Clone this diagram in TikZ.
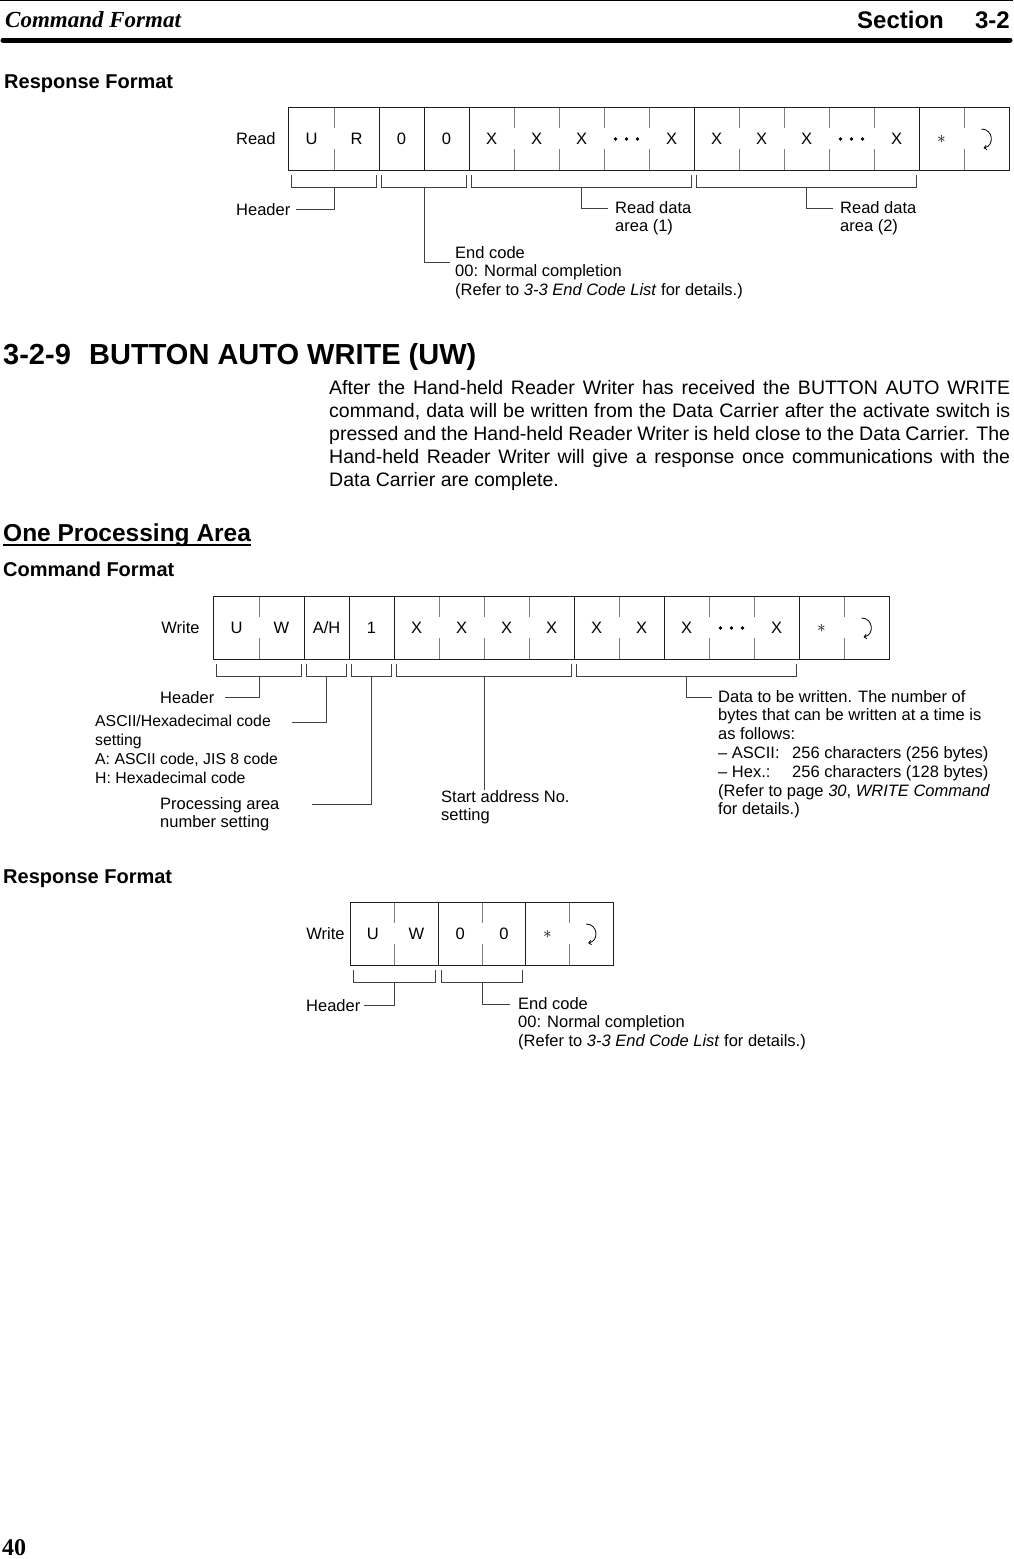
\documentclass[tikz,border=0pt]{standalone}
\usepackage{fontspec}
\setmainfont{Liberation Sans}
\newfontfamily\manualserif{Liberation Serif}
\usetikzlibrary{positioning, calc, arrows.meta}

\definecolor{FrameColor}{gray}{0.12}
\definecolor{TickColor}{gray}{0.5}
\definecolor{LeadColor}{gray}{0.25}

\newcommand{\diagfont}{\fontsize{16.5}{18.8}\selectfont}
% divider with a gap in the middle, and a full divider
\newcommand{\halfsep}[1]{\draw[halftick] (#1.north east) -- ++(0,20) (#1.south east) -- ++(0,-21);}
\newcommand{\fullsep}[1]{\draw[boxline] (#1.north east) -- (#1.south east);}
% bracket under cells #1..#2, mid point saved as #3
\newcommand{\cellbracket}[3]{%
  \draw[brace] ([shift={(3pt,-5pt)}]#1.south west) -- ([shift={(3pt,-17pt)}]#1.south west)
    -- ([shift={(-3pt,-17pt)}]#2.south east) -- ([shift={(-3pt,-5pt)}]#2.south east);
  \coordinate (#3) at ($([yshift=-17pt]#1.south west)!0.5!([yshift=-17pt]#2.south east)$);}
\newcommand{\retmark}[1]{%
  \draw[retarrow] ($(#1)+(-5,-10)$) .. controls ($(#1)+(7,-10)$) and ($(#1)+(8,7)$) .. ($(#1)+(-3,9)$);}
\newcommand{\celldots}[1]{\foreach \dx in {-11,0,11} {\fill ($(#1)+(\dx,0)$) circle (1.9pt);}}

\tikzset{
    cell/.style={minimum width=45pt, minimum height=62pt, inner sep=0pt, font=\diagfont},
    boxline/.style={draw=FrameColor, line width=1pt},
    halftick/.style={draw=TickColor, line width=0.9pt},
    brace/.style={draw=LeadColor, line width=0.8pt},
    lead/.style={draw=LeadColor, line width=0.8pt},
    lbl/.style={font=\diagfont, align=left, inner sep=0pt, anchor=north west, execute at begin node=\strut},
    rowlbl/.style={font=\diagfont, inner sep=0pt},
    headbold/.style={font=\bfseries\fontsize{20}{24}\selectfont, inner sep=0pt, anchor=base west},
    bodytext/.style={font=\fontsize{19.5}{23}\selectfont, align=left, inner sep=0pt, anchor=north west, execute at begin node=\strut},
    retarrow/.style={draw=black, line width=0.8pt, -{Straight Barb[length=2.5pt,width=4.5pt]}}
}

\begin{document}
\begin{tikzpicture}[x=1pt, y=-1pt]
\fill[white] (0,0) rectangle (1013,1559);
\useasboundingbox (0,0) rectangle (1013,1559);

% page head
\draw[line width=1pt] (0,0.5) -- (1013,0.5);
\node[anchor=base west, inner sep=0pt, font=\manualserif\bfseries\itshape\fontsize{23}{26}\selectfont] (pagetitle) at (5,27) {Command Format};
\node[headbold, font=\bfseries\fontsize{24}{28}\selectfont] (sectitle) at (857,28) {Section};
\node[headbold, font=\bfseries\fontsize{24}{28}\selectfont, anchor=base east] (secnum) at (1010,28) {3-2};
\draw[line width=5pt, line cap=round] (3,40) -- (1010,40);

% read response
\node[headbold] (readfmt) at (4,88) {Response Format};
\foreach \lab [count=\i] in {U,R,0,0,X,X,X,{},X,X,X,X,{},X,$\ast$,{}}
    \node[cell] (r\i) at ({311.5+45*(\i-1)},139) {\lab};
\draw[boxline] (r1.north west) rectangle (r16.south east);
\foreach \i in {1,5,6,7,8,10,11,12,13,15} {\halfsep{r\i}}
\foreach \i in {2,3,4,9,14} {\fullsep{r\i}}
\celldots{r8}
\celldots{r13}
\retmark{r16}
\node[rowlbl, left=13pt of r1] (readlbl) {Read};

\cellbracket{r1}{r2}{rb1}
\cellbracket{r3}{r4}{rb2}
\cellbracket{r5}{r9}{rb3}
\cellbracket{r10}{r14}{rb4}

\node[lbl] (readhdr) at (236,202) {Header};
\node[lbl] (readend) at (455,246) {End code\\00: Normal completion\\(Refer to \textit{3-3 End Code List} for details.)};
\node[lbl] (readdat1) at (615,201) {Read data\\area (1)};
\node[lbl] (readdat2) at (840,201) {Read data\\area (2)};
\draw[lead] (rb1) |- ([xshift=5pt,yshift=-7pt]readhdr.north east);
\draw[lead] (rb2) |- ([xshift=-5pt,yshift=-16pt]readend.north west);
\draw[lead] (rb3) |- ([xshift=-7pt,yshift=-7pt]readdat1.north west);
\draw[lead] (rb4) |- ([xshift=-7pt,yshift=-7pt]readdat2.north west);

% section text
\node[headbold, font=\bfseries\fontsize{29}{32}\selectfont] (uwnum) at (3,364) {3-2-9};
\node[headbold, font=\bfseries\fontsize{29}{32}\selectfont] (uwtitle) at (89,364) {BUTTON AUTO WRITE (UW)};
\node[bodytext] (uwtext) at (329,380) {%
\makebox[681pt][s]{After the Hand-held Reader Writer has received the BUTTON AUTO WRITE}\\
\makebox[681pt][s]{command, data will be written from the Data Carrier after the activate switch is}\\
\makebox[681pt][s]{pressed and the Hand-held Reader Writer is held close to the Data Carrier. The}\\
\makebox[681pt][s]{Hand-held Reader Writer will give a response once communications with the}\\
Data Carrier are complete.};

\node[headbold, font=\bfseries\fontsize{24.5}{28}\selectfont] (onearea) at (3,541) {One Processing Area};
\draw[line width=2pt] ([yshift=-4pt]onearea.base west) -- ([yshift=-4pt]onearea.base east);

% write command
\node[headbold] (cmdfmt) at (3,576) {Command Format};
\foreach \lab [count=\i] in {U,W,A/H,1,X,X,X,X,X,X,X,{},X,$\ast$,{}}
    \node[cell] (c\i) at ({236.5+45*(\i-1)},628) {\lab};
\draw[boxline] (c1.north west) rectangle (c15.south east);
\foreach \i in {1,5,6,7,9,11,12,14} {\halfsep{c\i}}
\foreach \i in {2,3,4,8,10,13} {\fullsep{c\i}}
\celldots{c12}
\retmark{c15}
\node[rowlbl, left=14pt of c1] (cmdlbl) {Write};

\cellbracket{c1}{c2}{cb1}
\cellbracket{c3}{c3}{cb2}
\cellbracket{c4}{c4}{cb3}
\cellbracket{c5}{c8}{cb4}
\cellbracket{c9}{c13}{cb5}

\node[lbl] (cmdhdr) at (160,690) {Header};
\node[lbl, font=\fontsize{15.8}{18.8}\selectfont] (cmdasc) at (95,715) {ASCII/Hexadecimal code\\setting\\A: ASCII code, JIS 8 code\\H: Hexadecimal code};
\node[lbl] (cmdproc) at (160,797) {Processing area\\number setting};
\node[lbl] (cmdstart) at (441,790) {Start address No.\\setting};
\node[lbl] (cmddata) at (718,690) {Data to be written. The number of\\bytes that can be written at a time is\\as follows:\\\makebox[74pt][l]{– ASCII:}256 characters (256 bytes)\\\makebox[74pt][l]{– Hex.:}256 characters (128 bytes)\\(Refer to page \textit{30}, \textit{WRITE Command}\\for details.)};
\coordinate (ascend) at (292,722);
\draw[lead] (cb1) |- ([xshift=10pt,yshift=-7pt]cmdhdr.north east);
\draw[lead] (cb2) |- (ascend);
\draw[lead] (cb3) |- ([xshift=32pt,yshift=-7pt]cmdproc.north east);
\draw[lead] (cb4) -- (cb4 |- cmdstart.north);
\draw[lead] (cb5) |- ([xshift=-6pt,yshift=-7pt]cmddata.north west);

% write response
\node[headbold] (respfmt) at (3,883) {Response Format};
\foreach \lab [count=\i] in {U,W,0,0,$\ast$,{}}
    \node[cell, minimum width=43.67pt] (s\i) at ({372.83+43.67*(\i-1)},934) {\lab};
\draw[boxline] (s1.north west) rectangle (s6.south east);
\foreach \i in {1,3,5} {\halfsep{s\i}}
\foreach \i in {2,4} {\fullsep{s\i}}
\retmark{s6}
\node[rowlbl, left=6pt of s1] (resplbl) {Write};

\cellbracket{s1}{s2}{sb1}
\cellbracket{s3}{s4}{sb2}

\node[lbl] (resphdr) at (306,998) {Header};
\node[lbl] (respend) at (518,997) {End code\\00: Normal completion\\(Refer to \textit{3-3 End Code List} for details.)};
\draw[lead] (sb1) |- ([xshift=3pt,yshift=-7pt]resphdr.north east);
\draw[lead] (sb2) |- ([xshift=-8pt,yshift=-7pt]respend.north west);

% page number
\node[anchor=base west, inner sep=0pt, font=\manualserif\bfseries\fontsize{24}{26}\selectfont] (pagenum) at (2,1555) {40};
\end{tikzpicture}
\end{document}
